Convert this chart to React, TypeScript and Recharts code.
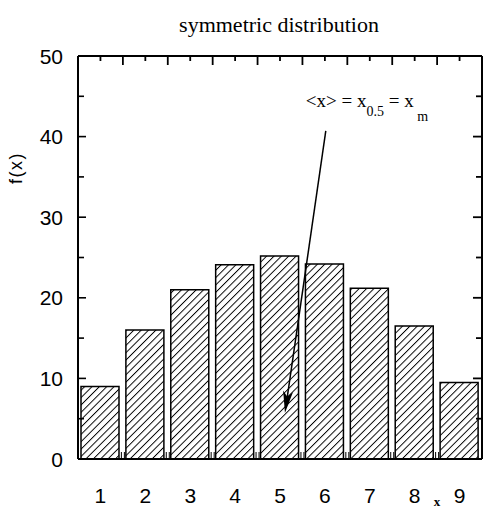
import React from "react";
import {
  BarChart,
  Bar,
  XAxis,
  YAxis,
  ReferenceLine,
} from "recharts";

// values
const CATEGORIES = ["1", "2", "3", "4", "5", "6", "7", "8", "9"];
const FREQUENCIES = [9.0, 16.0, 21.0, 24.1, 25.2, 24.2, 21.2, 16.5, 9.5];
const Y_TICKS = [0, 5, 10, 15, 20, 25, 30, 35, 40, 45, 50];
const TITLE = "symmetric distribution";
const Y_LABEL = "f(x)";
const X_LABEL = "x";

// arrow of the annotation, in data units (x on the numeric axis)
const ARROW_FROM = { x: 6.02, y: 40.7 };
const ARROW_TO = { x: 5.11, y: 5.7 };

const data = CATEGORIES.map((c, i) => ({ cat: c, xn: i + 1, f: FREQUENCIES[i] }));

// frame of the plot (chart size minus axis widths/heights)
const W = 483;
const H = 508;
const LEFT = 78;
const RIGHT = W - 1;
const TOP = 56;
const BOTTOM = H - 49;
const BAND = (RIGHT - LEFT) / CATEGORIES.length;

const SANS = "'Liberation Sans', Arial, sans-serif";
const SERIF = "'Liberation Serif', 'Times New Roman', serif";

// left ticks with labels, mirrored on the right frame side
const LeftTick = (props: any) => {
  const { y, payload } = props;
  const major = payload.value % 10 === 0;
  return (
    <g>
      <path d={`M${LEFT},${y}h${major ? 8 : 6}`} stroke="#000" strokeWidth={1.6} fill="none" />
      <path d={`M${RIGHT},${y}h${major ? -9 : -6}`} stroke="#000" strokeWidth={1.8} fill="none" />
      {major && (
        <text x={LEFT - 15} y={y} dy="0.36em" textAnchor="end" fontSize={21} fontFamily={SANS} fill="#000" stroke="none">
          {payload.value}
        </text>
      )}
    </g>
  );
};

// category labels, plus the top frame ticks (centre short, edge long) and small edge marks at the bottom
const BottomTick = (props: any) => {
  const { x, index, payload } = props;
  const last = index === CATEGORIES.length - 1;
  return (
    <g>
      <path d={`M${x},${TOP}v5`} stroke="#000" strokeWidth={1.8} fill="none" />
      {!last && (
        <>
          <path d={`M${x + BAND / 2},${TOP}v9`} stroke="#000" strokeWidth={1.8} fill="none" />
          <path d={`M${x + BAND / 2 - 1.5},${BOTTOM}v-7M${x + BAND / 2 + 1.5},${BOTTOM}v-7`} stroke="#000" strokeWidth={1} fill="none" />
        </>
      )}
      <text x={x} y={BOTTOM + 44} textAnchor="middle" fontSize={21} fontFamily={SANS} fill="#000" stroke="none">
        {payload.value}
      </text>
    </g>
  );
};

const Arrow = (props: any) => {
  const { x1, y1, x2, y2 } = props;
  const ang = Math.atan2(y2 - y1, x2 - x1);
  const len = 22;
  const half = 5;
  const bx = x2 - len * Math.cos(ang);
  const by = y2 - len * Math.sin(ang);
  const nx = -Math.sin(ang);
  const ny = Math.cos(ang);
  const head = `${x2},${y2} ${bx + nx * half},${by + ny * half} ${bx + (x2 - bx) * 0.25},${by + (y2 - by) * 0.25} ${bx - nx * half},${by - ny * half}`;
  return (
    <g>
      <line x1={x1} y1={y1} x2={bx + (x2 - bx) * 0.3} y2={by + (y2 - by) * 0.3} stroke="#000" strokeWidth={1.5} />
      <polygon points={head} fill="#000" />
      <text x={x1 - 20} y={y1 - 24} fontSize={19} fontFamily={SERIF} fill="#000">
        {"<x> = x"}
        <tspan fontSize={14} dy={9}>0.5</tspan>
        <tspan dy={-9}>{" = x"}</tspan>
        <tspan fontSize={14} dy={14}> m</tspan>
      </text>
    </g>
  );
};

export default function App() {
  return (
    <div style={{ position: "absolute", left: 0, top: 0, width: W, height: H, background: "#fff" }}>
      <BarChart width={W} height={H} data={data} margin={{ top: 0, right: 0, bottom: 0, left: 0 }}>
        <defs>
          <pattern id="hatch" patternUnits="userSpaceOnUse" width={5.2} height={5.2} patternTransform="rotate(45)">
            <rect width={5.2} height={5.2} fill="#fff" />
            <line x1={0} y1={0} x2={0} y2={5.2} stroke="#000" strokeWidth={1.9} />
          </pattern>
        </defs>
        <XAxis
          xAxisId="cat"
          dataKey="cat"
          height={49}
          tickLine={false}
          tickSize={0}
          tickMargin={0}
          interval={0}
          tick={<BottomTick />}
          axisLine={{ stroke: "#000", strokeWidth: 2 }}
        />
        <XAxis
          xAxisId="n"
          dataKey="xn"
          type="number"
          orientation="top"
          domain={[0.5, 9.5]}
          height={56}
          tick={false}
          tickLine={false}
          axisLine={{ stroke: "#000", strokeWidth: 2 }}
        />
        <YAxis
          yAxisId="left"
          width={78}
          domain={[0, 50]}
          ticks={Y_TICKS}
          interval={0}
          tickLine={false}
          tickSize={0}
          tickMargin={0}
          tick={<LeftTick />}
          axisLine={{ stroke: "#000", strokeWidth: 2 }}
        />
        <YAxis
          yAxisId="right"
          orientation="right"
          width={1}
          domain={[0, 50]}
          tick={false}
          tickLine={false}
          axisLine={{ stroke: "#000", strokeWidth: 2 }}
        />
        <Bar
          xAxisId="cat"
          yAxisId="left"
          dataKey="f"
          barSize={38}
          fill="url(#hatch)"
          stroke="#000"
          strokeWidth={1.5}
          isAnimationActive={false}
        />
        <ReferenceLine
          xAxisId="n"
          yAxisId="left"
          segment={[ARROW_FROM, ARROW_TO]}
          shape={(p: any) => <Arrow {...p} />}
        />
      </BarChart>
      <svg width={W} height={H} style={{ position: "absolute", left: 0, top: 0, pointerEvents: "none" }}>
        <text x={279} y={32} textAnchor="middle" fontSize={22} fontFamily={SERIF} fill="#000">
          {TITLE}
        </text>
        <text
          x={0}
          y={0}
          transform="translate(22,168) rotate(-90)"
          textAnchor="middle"
          fontSize={18}
          letterSpacing={1.5}
          fontFamily={SANS}
          fill="#000"
        >
          {Y_LABEL}
        </text>
        <text x={437} y={506} textAnchor="middle" fontSize={13} fontWeight="bold" fontFamily={SERIF} fill="#000">
          {X_LABEL}
        </text>
      </svg>
    </div>
  );
}
